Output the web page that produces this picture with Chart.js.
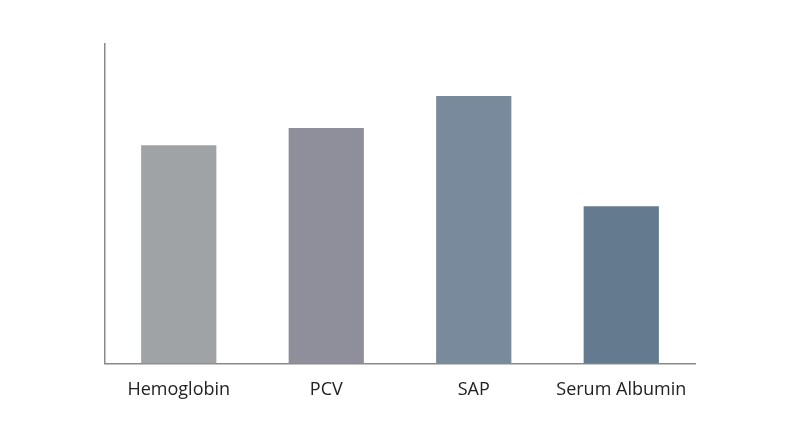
<!DOCTYPE html>
<html>
<head>
<meta charset="utf-8">
<script src="https://cdn.jsdelivr.net/npm/chart.js@4"></script>
<style>
  html, body { margin: 0; padding: 0; background: #fff; }
  #wrap { width: 800px; height: 447px; }
</style>
</head>
<body>
<div id="wrap"><canvas id="bar"></canvas></div>
<script>
// categories and values (arbitrary units, y axis has no ticks)
var categories = ["Hemoglobin", "PCV", "SAP", "Serum Albumin"];
var values = [68.3, 73.7, 83.7, 49.2];
var barColors = ["#a0a3a6", "#8f8f9c", "#788a9b", "#647b8f"];

var barChart = new Chart(document.getElementById("bar"), {
    type: 'bar',
    data: {
        labels: categories,
        datasets: [{
            data: values,
            backgroundColor: barColors,
            categoryPercentage: 1.0,
            barPercentage: 0.51
        }]
    },
    options: {
        responsive: true,
        maintainAspectRatio: false,
        animation: false,
        layout: { padding: { left: 97, right: 105, top: 44, bottom: 38 } },
        plugins: {
            legend: { display: false },
            tooltip: { enabled: false }
        },
        scales: {
            x: {
                grid: { display: false },
                border: { display: true, color: "#8a8a8a", width: 1.5 },
                ticks: {
                    color: "#222",
                    padding: 8,
                    font: { family: "'Open Sans'", size: 18 }
                }
            },
            y: {
                min: 0,
                max: 100,
                grid: { display: false },
                border: { display: true, color: "#8a8a8a", width: 1.5 },
                ticks: { display: false }
            }
        }
    }
});
</script>
</body>
</html>
